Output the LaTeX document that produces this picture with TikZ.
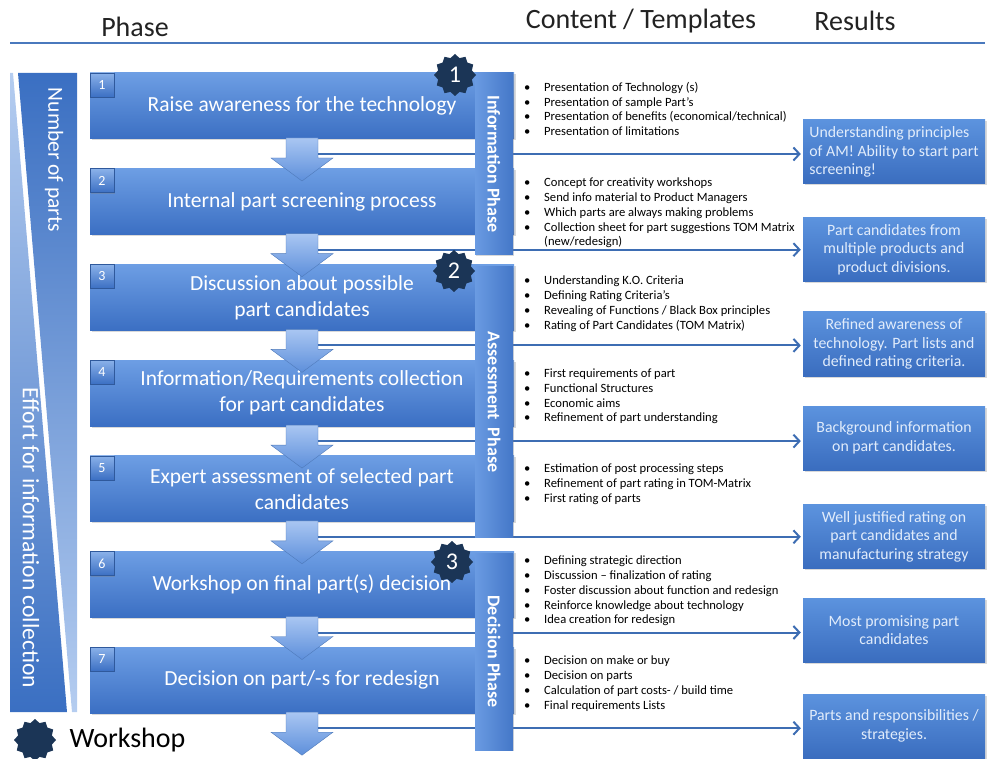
\documentclass[tikz,border=0pt]{standalone}
\usepackage{fontspec}
\usepackage{graphicx}
\setmainfont{Carlito}
\usetikzlibrary{shapes.geometric,arrows.meta,shadows}
\definecolor{boxtop}{HTML}{6D9EE4}
\definecolor{boxbot}{HTML}{3B6FC3}
\definecolor{arrtop}{HTML}{A9C6F2}
\definecolor{arrbot}{HTML}{5D8FDB}
\definecolor{linecol}{HTML}{3D6DB3}
\definecolor{navy}{HTML}{1B3556}
\definecolor{restop}{HTML}{5C93DE}
\definecolor{resbot}{HTML}{3A6DBF}
\definecolor{restext}{HTML}{E1ECFB}
\definecolor{labL}{HTML}{6A9BE2}
\definecolor{labR}{HTML}{4477C8}
\definecolor{triDark}{HTML}{3A6FC2}
\definecolor{triMid}{HTML}{5C8ED8}
\definecolor{triLight}{HTML}{B5CDF0}
\definecolor{headline}{HTML}{4A79BD}
\definecolor{headtext}{HTML}{222222}
\newcommand{\bul}{\makebox[20pt][l]{\textbullet}}
\newcommand{\bulcont}{\hspace*{20pt}}
\begin{document}
\begin{tikzpicture}[x=1pt,y=-1pt,
  phasebox/.style={rectangle, minimum width=424pt, minimum height=66pt, inner sep=0pt,
    top color=boxtop, bottom color=boxbot, text=white, align=center,
    font=\fontsize{21.5}{26}\selectfont, drop shadow={shadow xshift=1.5pt, shadow yshift=-1.5pt, opacity=0.3}},
  tabbox/.style={rectangle, minimum size=24pt, inner sep=0pt, top color=boxtop!80!white, bottom color=boxbot,
    draw=boxbot!80!black, line width=0.4pt, text=white, font=\fontsize{14}{15}\selectfont,
    drop shadow={shadow xshift=1pt, shadow yshift=-1pt, opacity=0.35}},
  downarr/.style={top color=arrtop, bottom color=arrbot, draw=arrbot!85!black, line width=0.4pt},
  resbox/.style={rectangle, minimum width=182pt, minimum height=64pt, inner sep=0pt,
    top color=restop, bottom color=resbot, text=restext, align=center,
    font=\fontsize{15.8}{18.5}\selectfont, drop shadow={shadow xshift=1.5pt, shadow yshift=-1.5pt, opacity=0.3}},
  phaselabel/.style={rectangle, minimum width=38pt, inner sep=0pt, left color=labL, right color=labR,
    text=white, font=\fontsize{18}{20}\selectfont\bfseries,
    drop shadow={shadow xshift=1pt, shadow yshift=-1pt, opacity=0.3}},
  badge/.style={star, star points=12, star point ratio=1.2, minimum size=42pt, inner sep=0pt,
    fill=navy, text=white, font=\fontsize{24}{26}\selectfont},
  conn/.style={draw=linecol, line width=2pt, -{Straight Barb[length=6pt,width=13pt,line width=2pt]}},
  bullets/.style={anchor=north west, inner sep=0pt, align=left, text=black,
    font=\fontsize{12.6}{14.7}\selectfont},
  header/.style={text=headtext, font=\fontsize{28}{30}\selectfont}
]
\useasboundingbox (0,0) rectangle (988,759);

% header
\node[header] (hphase) at (135,27) {Phase};
\node[header] (hcont) at (641,21) {Content / Templates};
\node[header] (hres) at (855,21) {Results};
\draw[headline, line width=2pt] (10,43) -- (985,43);

% left triangles
\shade[top color=triDark, bottom color=triLight] (18,73) -- (77,73) -- (77,712) -- (72,712) -- cycle;
\shade[top color=triLight, middle color=triMid, bottom color=triDark] (10,73) -- (13,73) -- (67,712) -- (10,712) -- cycle;
\node[rotate=-90, text=white, font=\fontsize{21.5}{22}\selectfont] (nparts) at (54,160) {Number of parts};
\node[rotate=-90, text=white, font=\fontsize{23.5}{24}\selectfont] (effort) at (31,538) {Effort for information collection};

% phase boxes
\foreach \i/\t/\txt in {
  1/73/{Raise awareness for the technology},
  2/168.7/{Internal part screening process},
  3/264.4/{Discussion about possible\\part candidates},
  4/360.1/{Information/Requirements collection\\for part candidates},
  5/455.8/{Expert assessment of selected part\\candidates},
  6/551.5/{Workshop on final part(s) decision},
  7/647.2/{Decision on part/-s for redesign}} {
  \node[phasebox] (b\i) at (302,\t+33) {\txt};
  \node[tabbox] (t\i) at (102,\t+12) {\i};
}

% down arrows
\foreach \i/\b in {1/139,2/234.7,3/330.4,4/426.1,5/521.8,6/617.5,7/713.2} {
  \path[downarr] (286,\b-1) -- (318,\b-1) -- (318,\b+19) -- (333,\b+19) -- (302,\b+42) -- (271,\b+19) -- (286,\b+19) -- cycle;
  \coordinate (s\i) at (318,\b+15);
}

% result boxes
\node[resbox, align=left] (r1) at (894,152) {Understanding principles\\of AM! Ability to start part\\screening!};
\node[resbox] (r2) at (894,249.7) {Part candidates from\\multiple products and\\product divisions.};
\node[resbox] (r3) at (894,344) {Refined awareness of\\technology. Part lists and\\defined rating criteria.};
\node[resbox] (r4) at (894,438) {Background information\\on part candidates.};
\node[resbox] (r5) at (894,536.8) {Well justified rating on\\part candidates and\\manufacturing strategy};
\node[resbox] (r6) at (894,630) {Most promising part\\candidates};
\node[resbox] (r7) at (894,726) {Parts and responsibilities /\\strategies.};

% connectors
\foreach \i in {1,...,7} {
  \draw[conn, shorten >=2pt] (s\i) -- (s\i -| r\i.west);
}

% phase labels
\node[phaselabel, minimum height=182pt] (pinfo) at (494,164) {\rotatebox{-90}{Information Phase}};
\node[phaselabel, minimum height=270pt] (passess) at (494,402) {\rotatebox{-90}{Assessment~~Phase}};
\node[phaselabel, minimum height=197pt] (pdec) at (494,651.5) {\rotatebox{-90}{Decision Phase}};

% badges
\node[badge] (w1) at (455,75) {1};
\node[badge] (w2) at (454,271) {2};
\node[badge] (w3) at (452,562) {3};
\node[badge, minimum size=42pt] (wlegend) at (35,740) {};
\node[anchor=west, text=black, font=\fontsize{28}{30}\selectfont] (wtext) at (66,740) {Workshop};

% bullet lists
\node[bullets] (c1) at (524,82) {\bul Presentation of Technology (s)\\\bul Presentation of sample Part’s\\\bul Presentation of benefits (economical/technical)\\\bul Presentation of limitations};
\node[bullets] (c2) at (524,178) {\bul Concept for creativity workshops\\\bul Send info material to Product Managers\\\bul Which parts are always making problems\\\bul Collection sheet for part suggestions TOM Matrix\\\bulcont (new/redesign)};
\node[bullets] (c3) at (524,276) {\bul Understanding K.O. Criteria\\\bul Defining Rating Criteria's\\\bul Revealing of Functions / Black Box principles\\\bul Rating of Part Candidates (TOM Matrix)};
\node[bullets] (c4) at (524,369) {\bul First requirements of part\\\bul Functional Structures\\\bul Economic aims\\\bul Refinement of part understanding};
\node[bullets] (c5) at (524,464) {\bul Estimation of post processing steps\\\bul Refinement of part rating in TOM-Matrix\\\bul First rating of parts};
\node[bullets] (c6) at (524,556) {\bul Defining strategic direction\\\bul Discussion – finalization of rating\\\bul Foster discussion about function and redesign\\\bul Reinforce knowledge about technology\\\bul Idea creation for redesign};
\node[bullets] (c7) at (524,656) {\bul Decision on make or buy\\\bul Decision on parts\\\bul Calculation of part costs- / build time\\\bul Final requirements Lists};
\end{tikzpicture}
\end{document}
